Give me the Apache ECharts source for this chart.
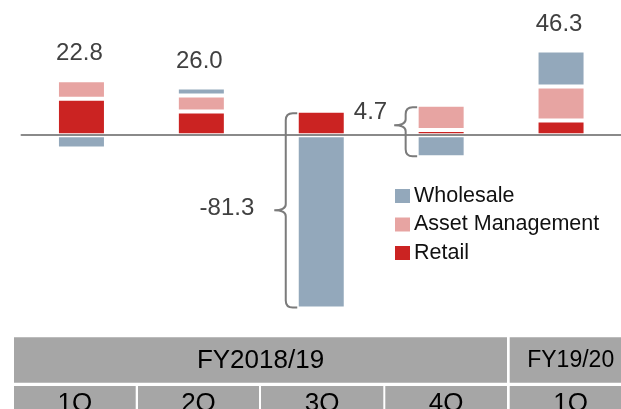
<!DOCTYPE html>
<html>
<head>
<meta charset="utf-8">
<script src="https://cdn.jsdelivr.net/npm/echarts@6/dist/echarts.min.js"></script>
<style>
	html, body { margin: 0; padding: 0; background: #fff; }
	#main { width: 621px; height: 409px; }
</style>
</head>
<body>
<div id="main"></div>
<script>
// 数据
var quarters = ['1Q', '2Q', '3Q', '4Q', '1Q'];
var fiscalYears = ['FY2018/19', 'FY19/20'];
var retail = [19.9, 12.9, 13.4, 2.8, 8.0];
var assetMgmt = [10.1, 8.8, null, 13.9, 18.6];
var wholesale = [-7.2, 4.3, -94.7, -12.0, 19.7];
var totals = [22.8, 26.0, -81.3, 4.7, 46.3];
// 合计标签：柱顶上方 or 括号
var labelMode = ['top', 'top', 'brace', 'brace', 'top'];

var colors = {
	wholesale: '#93a8bb',
	asset: '#e7a4a2',
	retail: '#cb2322'
};

// 括号位置微调
var braceLayout = {
	2: { tip: 0.5, dx: -20, dy: -2 },
	3: { tip: 0.37, dx: -7, dy: -13 }
};

// 正负堆叠的顶部和底部
var stackInfo = [];
for (var i = 0; i < quarters.length; ++i) {
	var pos = 0, neg = 0;
	[retail[i], assetMgmt[i], wholesale[i]].forEach(function(v) {
		if (v == null) return;
		if (v >= 0) pos += v; else neg += v;
	});
	stackInfo.push([i, totals[i], pos, neg]);
}

function renderTotal(params, api) {
	var i = api.value(0);
	var total = api.value(1);
	var pos = api.value(2);
	var neg = api.value(3);
	var txt = total.toFixed(1);

	if (labelMode[i] == 'top') {
		var p = api.coord([i, pos]);
		return {
			type: 'text',
			style: {
				text: txt,
				x: p[0] - 2,
				y: p[1] - 26.5,
				align: 'center',
				verticalAlign: 'middle',
				fontSize: 24,
				fontFamily: '"Liberation Sans", Arial, sans-serif',
				fill: '#404040'
			}
		};
	}

	// 括号
	var lay = braceLayout[i];
	var c = api.coord([i, 0])[0];
	var top = api.coord([i, pos])[1] + 2.5;
	var bot = api.coord([i, neg])[1] - 1;
	var xv = c - 35.5, xr = c - 24, xt = c - 47;
	var ym = top + (bot - top) * lay.tip;
	var r = 7;
	var d = 'M' + xr + ',' + top +
		' L' + (xv + r) + ',' + top +
		' Q' + xv + ',' + top + ' ' + xv + ',' + (top + r) +
		' L' + xv + ',' + (ym - 6) +
		' Q' + xv + ',' + ym + ' ' + xt + ',' + ym +
		' Q' + xv + ',' + ym + ' ' + xv + ',' + (ym + 6) +
		' L' + xv + ',' + (bot - r) +
		' Q' + xv + ',' + bot + ' ' + (xv + r) + ',' + bot +
		' L' + xr + ',' + bot;

	return {
		type: 'group',
		children: [{
			type: 'path',
			shape: { pathData: d },
			style: { stroke: '#7b7b7b', lineWidth: 2, fill: null }
		}, {
			type: 'text',
			style: {
				text: txt,
				x: xt + lay.dx,
				y: ym + lay.dy,
				align: 'right',
				verticalAlign: 'middle',
				fontSize: 24,
				fontFamily: '"Liberation Sans", Arial, sans-serif',
				fill: '#404040'
			}
		}]
	};
}

// 下方表格
function buildTable() {
	var els = [];
	var cellFill = '#a6a6a6';
	var font = '"Liberation Sans", Arial, sans-serif';
	var row1 = [[14, 493], [509.7, 122]];
	var row2 = [[14, 121.7], [138, 121], [261, 122.3], [385.3, 121.7], [509.7, 122]];

	row1.forEach(function(cell, k) {
		els.push({ type: 'rect', shape: { x: cell[0], y: 337.3, width: cell[1], height: 45.4 }, style: { fill: cellFill } });
		els.push({
			type: 'text',
			style: {
				text: fiscalYears[k], x: cell[0] + cell[1] / 2, y: 360.5,
				align: 'center', verticalAlign: 'middle',
				fontSize: k == 0 ? 26 : 23, fontFamily: font, fill: '#000'
			}
		});
	});

	row2.forEach(function(cell, k) {
		els.push({ type: 'rect', shape: { x: cell[0], y: 386, width: cell[1], height: 45.4 }, style: { fill: cellFill } });
		els.push({
			type: 'text',
			style: {
				text: quarters[k], x: cell[0] + cell[1] / 2, y: 404,
				align: 'center', verticalAlign: 'middle',
				fontSize: 26, fontFamily: font, fill: '#000'
			}
		});
	});
	return els;
}

var myChart = echarts.init(document.getElementById('main'), null, { renderer: 'canvas' });

var barStyle = function(color) {
	return { color: color, borderColor: '#fff', borderWidth: 2 };
};

var option = {
	animation: false,
	backgroundColor: '#fff',
	grid: {
		left: 21.5,
		top: 25.4,
		width: 613.25,
		height: 292.8,
		containLabel: false
	},
	legend: {
		orient: 'vertical',
		left: 395,
		top: 185,
		padding: 0,
		itemWidth: 15,
		itemHeight: 14,
		itemGap: 6.5,
		icon: 'rect',
		itemStyle: { borderWidth: 0 },
		data: ['Wholesale', 'Asset Management', 'Retail'],
		textStyle: {
			fontSize: 21.5,
			lineHeight: 20,
			padding: [0, 0, 0, -1],
			fontFamily: '"Liberation Sans", Arial, sans-serif',
			color: '#111'
		}
	},
	xAxis: {
		type: 'category',
		data: quarters.map(function(q, k) { return k; }),
		z: 10,
		axisLine: { onZero: true, lineStyle: { color: '#8a8a8a', width: 2 } },
		axisTick: { show: false },
		axisLabel: { show: false },
		splitLine: { show: false }
	},
	yAxis: {
		type: 'value',
		min: -100,
		max: 60,
		show: false,
		splitLine: { show: false }
	},
	series: [{
		name: 'Retail',
		type: 'bar',
		stack: 'total',
		barWidth: 49,
		data: retail,
		itemStyle: barStyle(colors.retail)
	}, {
		name: 'Asset Management',
		type: 'bar',
		stack: 'total',
		barWidth: 49,
		data: assetMgmt,
		itemStyle: barStyle(colors.asset)
	}, {
		name: 'Wholesale',
		type: 'bar',
		stack: 'total',
		barWidth: 49,
		data: wholesale,
		itemStyle: barStyle(colors.wholesale)
	}, {
		name: 'totals',
		type: 'custom',
		renderItem: renderTotal,
		data: stackInfo,
		encode: { x: 0, y: 2 },
		clip: false,
		silent: true,
		z: 20
	}],
	graphic: buildTable()
};

myChart.setOption(option);
</script>
</body>
</html>
